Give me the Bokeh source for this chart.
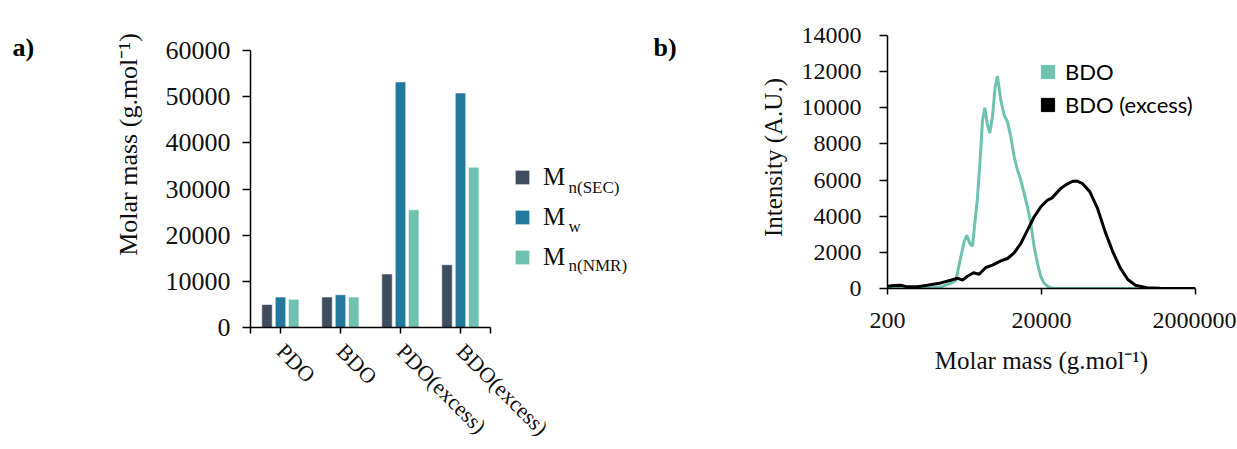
import numpy as np
from bokeh.plotting import figure
from bokeh.layouts import row
from bokeh.models import (Range1d, FixedTicker, NumeralTickFormatter,
                          Legend, LegendItem, ColumnDataSource)
from bokeh.transform import dodge
from bokeh.core.properties import value
from bokeh.embed import file_html
from bokeh.resources import INLINE

# ---------------- data: panel a ----------------
categories = ["PDO", "BDO", "PDO(excess)", "BDO(excess)"]
mn_sec = [5000, 6600, 11600, 13600]
mw = [6600, 7100, 53200, 50800]
mn_nmr = [6100, 6600, 25500, 34700]
series_main = ["M", "M", "M"]
series_subs = ["n(SEC)", "w", "n(NMR)"]
y_ticks_a = [0, 10000, 20000, 30000, 40000, 50000, 60000]

# ---------------- data: panel b ----------------
bdo_mass = [200, 400, 661, 985, 1327, 1546, 1792, 1978, 2143, 2344, 2537, 2723, 2946, 3258,
            3423, 3671, 3950, 4263, 4617, 5000, 5360, 5920, 6540, 7230, 7990, 8830, 9760,
            10770, 11900, 13150, 14540, 16070, 17740, 19630, 21690, 25150, 30000, 2000000]
bdo_int = [0, 0, 20, 90, 280, 460, 1750, 2580, 2950, 2490, 2340, 3600, 5000, 7700,
           9300, 10000, 9100, 8600, 9500, 11160, 11750, 10420, 9600, 9220, 8400, 7290, 6550,
           6000, 5260, 4520, 3600, 2300, 1380, 650, 280, 55, 0, 0]
bdoex_mass = [200, 244, 298, 363, 490, 661, 985, 1327, 1622, 1883, 2186, 2614, 3098, 3784,
              4617, 5920, 7230, 8830, 10770, 13150, 16070, 19630, 23930, 27180, 35650, 43000,
              50000, 57000, 67480, 84750, 106400, 133600, 167600, 210400, 264300, 331800,
              467000, 700000, 2000000]
bdoex_int = [130, 170, 180, 90, 100, 180, 310, 460, 570, 460, 680, 870, 790, 1160,
             1290, 1530, 1660, 1970, 2490, 3230, 3970, 4520, 4890, 5000, 5540, 5780,
             5920, 5950, 5820, 5360, 4450, 3160, 2060, 1140, 500, 180,
             40, 10, 0]
x_ticks_b = [200, 20000, 2000000]
y_ticks_b = [0, 2000, 4000, 6000, 8000, 10000, 12000, 14000]
legend_b = ["BDO", "BDO (excess)"]
panel_tags = ["a)", "b)"]

C_SEC = "#3e4e5f"
C_MW = "#23789d"
C_NMR = "#6fc1b0"
SERIF = "Liberation Serif"
TXT = "#111111"

TOP = 26          # common top border (plots in a row share it)
BOTTOM = 122      # common bottom border
SPLIT = 568       # where panel a's canvas ends and the side strip begins


def style_axis(ax, size, tick_out):
    ax.axis_line_color = "black"
    ax.axis_line_width = 1.5
    ax.major_tick_line_color = "black"
    ax.major_tick_line_width = 1.5
    ax.major_tick_in = 0
    ax.major_tick_out = tick_out
    ax.minor_tick_line_color = None
    ax.major_label_text_font = SERIF
    ax.major_label_text_font_size = size
    ax.major_label_text_color = TXT
    ax.axis_label_text_font = SERIF
    ax.axis_label_text_font_style = "normal"
    ax.axis_label_text_color = TXT


def blank(p):
    p.axis.visible = False
    p.grid.grid_line_color = None
    p.outline_line_color = None


# ---------------- strip holding "a)" ----------------
p0 = figure(x_range=Range1d(0, 60), y_range=Range1d(327, TOP), width=60, frame_height=327 - TOP,
            min_border_left=0, min_border_right=0, min_border_top=TOP, min_border_bottom=BOTTOM,
            output_backend="svg", toolbar_location=None)
blank(p0)
p0.text(x=[12], y=[47], text=panel_tags[:1], text_baseline="alphabetic", text_font=value(SERIF),
        text_font_style="bold", text_font_size="26px", text_color="black")

# ---------------- panel a ----------------
n_cat = len(categories)
cat_pos = [i + 0.5 for i in range(n_cat)]
ya_top = 60000 * (327 - TOP) / 277
fw_a = SPLIT - 250
xa_end = n_cat * fw_a / 240           # frame continues right of the axis to hold the legend
pa = figure(x_range=Range1d(0, xa_end), y_range=Range1d(0, ya_top),
            frame_width=fw_a, frame_height=327 - TOP,
            min_border_left=190, min_border_right=0, min_border_top=TOP, min_border_bottom=BOTTOM,
            output_backend="svg", toolbar_location=None)
src = ColumnDataSource(dict(x=cat_pos, cat=categories, sec=mn_sec, mw=mw, nmr=mn_nmr))
r_sec = pa.vbar(x=dodge("x", -0.225), top="sec", width=0.175, source=src,
                fill_color=C_SEC, line_color="white", line_width=0.6)
r_mw = pa.vbar(x=dodge("x", 0.0), top="mw", width=0.175, source=src,
               fill_color=C_MW, line_color="white", line_width=0.6)
r_nmr = pa.vbar(x=dodge("x", 0.22), top="nmr", width=0.175, source=src,
                fill_color=C_NMR, line_color="white", line_width=0.6)
pa.outline_line_color = None
pa.xgrid.grid_line_color = None
pa.ygrid.grid_line_color = None
pa.yaxis.ticker = FixedTicker(ticks=y_ticks_a)
pa.yaxis.formatter = NumeralTickFormatter(format="0")
pa.yaxis.bounds = (0, 60000)
pa.xaxis.ticker = FixedTicker(ticks=[0] + cat_pos + [n_cat])
overrides = {p: c for p, c in zip(cat_pos, categories)}
overrides[0] = ""
overrides[n_cat] = ""
pa.xaxis.major_label_overrides = overrides
pa.xaxis.bounds = (0, n_cat)
style_axis(pa.yaxis[0], "26px", 8)
style_axis(pa.xaxis[0], "22px", 6)
pa.yaxis.major_label_standoff = 12
# leading no-break spaces lift the centred label to where the reference has it
pa.yaxis.axis_label = "\u00a0" * 10 + "Molar mass (g.mol\u207b\u00b9)"
pa.yaxis.axis_label_text_font_size = "26px"
pa.yaxis.axis_label_standoff = 20
pa.xaxis.major_label_orientation = -np.pi / 4
pa.xaxis.major_label_standoff = 14

leg_a = Legend(items=[LegendItem(label=series_main[0], renderers=[r_sec]),
                      LegendItem(label=series_main[1], renderers=[r_mw]),
                      LegendItem(label=series_main[2], renderers=[r_nmr])],
               location=(263, 56), glyph_width=18, glyph_height=18, label_height=28,
               spacing=12, label_standoff=12, padding=0, margin=0,
               label_text_font=SERIF, label_text_font_size="25px", label_text_color=TXT,
               background_fill_alpha=0, border_line_alpha=0)
pa.add_layout(leg_a)

# ---------------- strip holding subscripts and "b)" ----------------
pl = figure(x_range=Range1d(SPLIT, 700), y_range=Range1d(327, TOP), width=700 - SPLIT,
            frame_height=327 - TOP,
            min_border_left=0, min_border_right=0, min_border_top=TOP, min_border_bottom=BOTTOM,
            output_backend="svg", toolbar_location=None)
blank(pl)
pl.text(x=[SPLIT] * len(series_subs), y=[187, 226, 265], text=series_subs,
        text_baseline="alphabetic", text_font=value(SERIF), text_font_size="17px",
        text_color=TXT)
pl.text(x=[653], y=[47], text=panel_tags[1:], text_baseline="alphabetic", text_font=value(SERIF),
        text_font_style="bold", text_font_size="26px", text_color="black")

# ---------------- panel b ----------------
yb_top = 14000 * (288 - TOP) / 253
pb = figure(x_axis_type="log", x_range=Range1d(200, 2000000), y_range=Range1d(0, yb_top),
            frame_width=308, frame_height=288 - TOP,
            min_border_left=187, min_border_right=41, min_border_top=TOP, min_border_bottom=BOTTOM,
            output_backend="svg", toolbar_location=None)
pb.outline_line_color = None
pb.xgrid.grid_line_color = None
pb.ygrid.grid_line_color = None
pb.line(bdo_mass, bdo_int, line_color=C_NMR, line_width=3)
pb.line(bdoex_mass, bdoex_int, line_color="black", line_width=3)
sq1 = pb.scatter(x=bdo_mass[:1], y=bdo_int[:1], marker="square", size=0, color=C_NMR)
sq2 = pb.scatter(x=bdoex_mass[:1], y=bdoex_int[:1], marker="square", size=0, color="black")
pb.xaxis.ticker = FixedTicker(ticks=x_ticks_b, minor_ticks=[])
pb.xaxis.formatter = NumeralTickFormatter(format="0")
pb.yaxis.ticker = FixedTicker(ticks=y_ticks_b, minor_ticks=[])
pb.yaxis.formatter = NumeralTickFormatter(format="0")
pb.yaxis.bounds = (0, 14000)
style_axis(pb.yaxis[0], "24px", 8)
style_axis(pb.xaxis[0], "24px", 6)
pb.yaxis.major_label_standoff = 18
pb.xaxis.major_label_standoff = 18
pb.yaxis.axis_label = "Intensity (A.U.)"
pb.xaxis.axis_label = "Molar mass (g.mol\u207b\u00b9)"
pb.yaxis.axis_label_text_font_size = "25px"
pb.xaxis.axis_label_text_font_size = "25px"
pb.yaxis.axis_label_standoff = 12
pb.xaxis.axis_label_standoff = 16
leg = Legend(items=[LegendItem(label=legend_b[0], renderers=[sq1]),
                    LegendItem(label=legend_b[1], renderers=[sq2])],
             location=(143, 167), glyph_width=35, glyph_height=33, spacing=0,
             label_standoff=0, padding=0, margin=0,
             label_text_font="Lato", label_text_font_size="22px", label_text_color="black",
             background_fill_alpha=0, border_line_alpha=0)
pb.add_layout(leg)

layout = row(p0, pa, pl, pb)
open("out.html", "w").write(file_html(layout, INLINE))
